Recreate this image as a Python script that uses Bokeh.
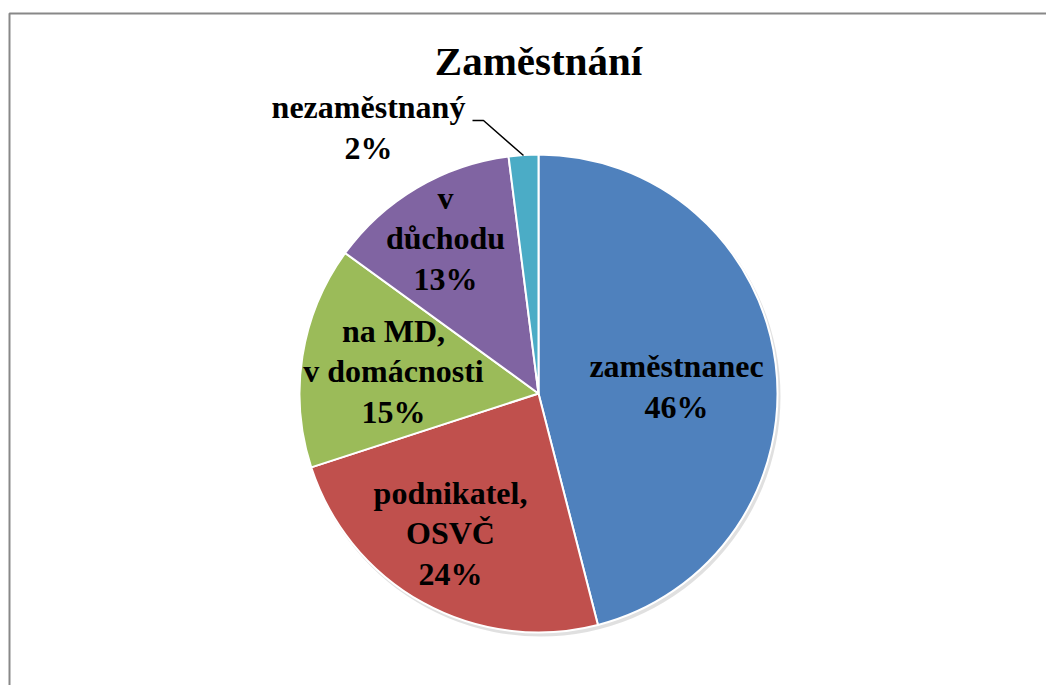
import math
from bokeh.plotting import figure
from bokeh.models import Range1d, ColumnDataSource
from bokeh.core.properties import value
from bokeh.embed import file_html
from bokeh.resources import INLINE

# ---- data ----
categories = ["zaměstnanec", "podnikatel,\nOSVČ", "na MD,\nv domácnosti", "v\ndůchodu", "nezaměstnaný"]
shares = [46, 24, 15, 13, 2]
colors = ["#4F81BD", "#C0504D", "#9BBB59", "#8064A2", "#4BACC6"]
title_text = "Zaměstnání"

# ---- layout (page pixel positions) ----
W, H = 1046, 685
def px(x):  # page x -> data x
    return x
def py(y):  # page y -> data y
    return H - y

cx, cy, R = px(538), py(393), 239
label_pos = [(676, 386), (450, 533), (393, 371), (445, 238), (368, 127)]
leader = [(472, 120), (483, 120), (523, 155)]

total = float(sum(shares))
starts, ends = [], []
cum = 0.0
for s in shares:
    starts.append(math.pi / 2 - 2 * math.pi * cum / total)
    cum += s
    ends.append(math.pi / 2 - 2 * math.pi * cum / total)

src = ColumnDataSource(dict(start=starts, end=ends, color=colors))

p = figure(width=W, height=H, output_backend="svg", toolbar_location=None,
           x_range=Range1d(0, W), y_range=Range1d(0, H),
           x_axis_location=None, y_axis_location=None,
           min_border=0, tools="")
p.grid.visible = False
p.outline_line_color = None
p.background_fill_color = "white"
p.border_fill_color = "white"

# frame (left and top edges visible)
p.line([px(9), px(9), W + 20], [-20, py(13), py(13)], line_color="#888888", line_width=2)

# subtle shadow
p.circle(x=cx + 2, y=cy - 3, radius=R + 1, fill_color="#000000", fill_alpha=0.12, line_color=None)

p.wedge(x=cx, y=cy, radius=R, start_angle="start", end_angle="end", direction="clock",
        fill_color="color", line_color="white", line_width=2, source=src)

labels = [f"{c}\n{s}%" for c, s in zip(categories, shares)]
lsrc = ColumnDataSource(dict(x=[px(a) for a, b in label_pos], y=[py(b) for a, b in label_pos], t=labels))
p.text(x="x", y="y", text="t", source=lsrc, text_align="center", text_baseline="middle",
       text_font=value("Liberation Serif"), text_font_style="bold", text_font_size="32px",
       text_color="black", text_line_height=1.13)

p.line([px(a) for a, b in leader], [py(b) for a, b in leader], line_color="black", line_width=1.5)

p.text(x=[px(538)], y=[py(60)], text=[title_text], text_align="center", text_baseline="middle",
       text_font=value("Liberation Serif"), text_font_style="bold", text_font_size="41px",
       text_color="black")

open("out.html", "w").write(file_html(p, INLINE))
